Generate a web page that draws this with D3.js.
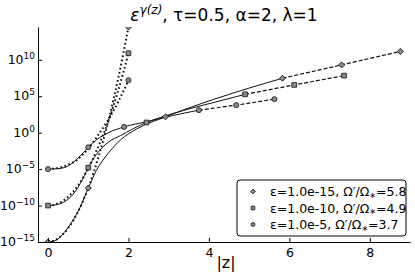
<!DOCTYPE html>
<html>
<head>
<meta charset="utf-8">
<script src="https://cdn.jsdelivr.net/npm/d3@7"></script>
<style>
  body { margin: 0; background: #fff; }
  text { font-family: "DejaVu Sans", sans-serif; fill: #000; }
</style>
</head>
<body>
<div id="root"></div>
<script>
// values are log10 of eps^gamma(z)
const epsLabels = ["1.0e-15", "1.0e-10", "1.0e-5"];
const ratioLabels = ["5.8", "4.9", "3.7"];
const shapes = ["diamond", "square", "circle"];

const solidZ = [
  [0, 0.2, 0.4, 0.6, 0.8, 1.0, 1.2, 1.5, 1.8, 2.2, 2.92, 3.5, 4.2, 5.0, 5.83],
  [0, 0.2, 0.4, 0.6, 0.8, 1.0, 1.2, 1.5, 1.8, 2.1, 2.45, 3.0, 3.7, 4.3, 4.9],
  [0, 0.2, 0.4, 0.6, 0.8, 1.0, 1.2, 1.5, 1.89, 2.45, 3.1, 3.75],
];
const solidLog = [
  [-15, -14.75, -13.7, -12.2, -10.2, -7.6, -5.2, -2.8, -1.0, 0.5, 2.17, 3.39, 4.72, 6.12, 7.47],
  [-10, -9.9, -9.5, -8.6, -7.0, -4.8, -3.0, -1.3, -0.4, 0.5, 1.4, 2.45, 3.55, 4.4, 5.26],
  [-5, -4.95, -4.8, -4.2, -3.2, -2.0, -1.0, 0.0, 0.79, 1.5, 2.35, 3.09],
];

const dotZ = [0, 0.25, 0.5, 0.75, 1.0, 1.25, 1.5, 1.75, 2.0];
const dotLog = [
  [-15, -14.5, -13.1, -10.8, -7.6, -3.4, 1.6, 7.6, 14.5],
  [-10, -9.7, -8.8, -7.2, -4.9, -1.9, 1.6, 5.9, 10.9],
  [-5, -4.85, -4.4, -3.6, -2.2, -0.3, 1.8, 4.3, 7.2],
];

const dashZ = [
  [5.83, 7.3, 8.76],
  [4.9, 6.12, 7.36],
  [3.75, 4.68, 5.63],
];
const dashLog = [
  [7.47, 9.3, 11.15],
  [5.26, 6.55, 7.83],
  [3.09, 3.78, 4.6],
];

const markZ = [
  [0, 1, 2, 2.92, 5.83, 7.3, 8.76],
  [0, 1, 2, 2.45, 4.9, 6.12, 7.36],
  [0, 1, 2, 1.89, 3.75, 4.68, 5.63],
];
const markLog = [
  [-15, -7.6, 14.5, 2.17, 7.47, 9.3, 11.15],
  [-10, -4.8, 10.9, 1.4, 5.26, 6.55, 7.83],
  [-5, -2.0, 7.2, 0.79, 3.09, 3.78, 4.6],
];

const xTicks = [0, 2, 4, 6, 8];
const yTickExp = [-15, -10, -5, 0, 5, 10];

const width = 415;
const height = 277;
const margin = { top: 27, right: 5, bottom: 35, left: 38 };

const svg = d3.select("#root").append("svg")
  .attr("width", width)
  .attr("height", height);

const x = d3.scaleLinear()
  .domain([-0.25, 9])
  .range([margin.left, width - margin.right]);

const y = d3.scaleLog()
  .domain([1e-15, Math.pow(10, 14.5)])
  .range([height - margin.bottom, margin.top]);

const pts = (zs, ls) => zs.map((z, i) => [z, Math.pow(10, ls[i])]);

svg.append("clipPath")
  .attr("id", "plot")
  .append("rect")
  .attr("x", margin.left)
  .attr("y", margin.top)
  .attr("width", width - margin.left - margin.right)
  .attr("height", height - margin.top - margin.bottom);

const plot = svg.append("g").attr("clip-path", "url(#plot)");

const smooth = d3.line()
  .x(d => x(d[0]))
  .y(d => y(d[1]))
  .curve(d3.curveMonotoneX);

const straight = d3.line()
  .x(d => x(d[0]))
  .y(d => y(d[1]));

shapes.forEach((s, k) => {
  plot.append("path")
    .attr("d", smooth(pts(solidZ[k], solidLog[k])))
    .attr("fill", "none")
    .attr("stroke", "#111")
    .attr("stroke-width", 1);

  plot.append("path")
    .attr("d", smooth(pts(dotZ, dotLog[k])))
    .attr("fill", "none")
    .attr("stroke", "#111")
    .attr("stroke-width", 2)
    .attr("stroke-dasharray", "1.6,2.6");

  plot.append("path")
    .attr("d", straight(pts(dashZ[k], dashLog[k])))
    .attr("fill", "none")
    .attr("stroke", "#111")
    .attr("stroke-width", 1.2)
    .attr("stroke-dasharray", "4,2");
});

const symbolType = { diamond: d3.symbolSquare, square: d3.symbolSquare, circle: d3.symbolCircle };
const symbolSize = { diamond: 18, square: 22, circle: 20 };
const rotation = { diamond: 45, square: 0, circle: 0 };

function marker(g, shape, cx, cy, scale = 1) {
  g.append("path")
    .attr("d", d3.symbol().type(symbolType[shape]).size(symbolSize[shape] * scale)())
    .attr("transform", `translate(${cx},${cy}) rotate(${rotation[shape]})`)
    .attr("fill", "#8a8a8a")
    .attr("stroke", "#222")
    .attr("stroke-width", 0.9);
}

shapes.forEach((s, k) => {
  pts(markZ[k], markLog[k]).forEach(d => marker(plot, s, x(d[0]), y(d[1])));
});

// axes: left and bottom spines only, ticks pointing in
const xAxis = svg.append("g")
  .attr("transform", `translate(0,${height - margin.bottom})`)
  .call(d3.axisBottom(x).tickValues(xTicks).tickSizeInner(-4).tickSizeOuter(0).tickPadding(6));

const yAxis = svg.append("g")
  .attr("transform", `translate(${margin.left},0)`)
  .call(d3.axisLeft(y).tickValues(yTickExp.map(e => Math.pow(10, e))).tickSizeInner(-4).tickSizeOuter(0).tickFormat(""));

[xAxis, yAxis].forEach(a => {
  a.select(".domain").attr("stroke", "#000");
  a.selectAll(".tick line").attr("stroke", "#000");
  a.selectAll("text").style("font-size", "12.5px").attr("font-family", "DejaVu Sans");
});

const yLabels = svg.append("g");
yTickExp.forEach(e => {
  const t = yLabels.append("text")
    .attr("x", margin.left - 3)
    .attr("y", y(Math.pow(10, e)) + 4)
    .attr("text-anchor", "end")
    .style("font-size", "12.5px");
  t.append("tspan").text("10");
  t.append("tspan")
    .attr("dy", -5)
    .style("font-size", "9px")
    .text(String(e).replace("-", "\u2212"));
});

// title
const title = svg.append("text")
  .attr("x", 224)
  .attr("y", 21)
  .attr("text-anchor", "middle")
  .style("font-size", "17px");
title.append("tspan").style("font-style", "italic").text("ε");
title.append("tspan")
  .attr("dy", -7)
  .style("font-size", "12px")
  .style("font-style", "italic")
  .text("γ(z)");
title.append("tspan").attr("dy", 7).text(", τ=0.5, α=2, λ=1");

svg.append("text")
  .attr("x", 226)
  .attr("y", 268)
  .attr("text-anchor", "middle")
  .style("font-size", "16px")
  .text("|z|");

// legend
const legend = svg.append("g").attr("transform", "translate(237,180)");
legend.append("rect")
  .attr("width", 169)
  .attr("height", 56)
  .attr("rx", 3)
  .attr("fill", "#fff")
  .attr("stroke", "#000")
  .attr("stroke-width", 1);

shapes.forEach((s, k) => {
  const cy = 11.5 + k * 16.5;
  marker(legend, s, 16, cy, 0.6);
  const t = legend.append("text")
    .attr("x", 33)
    .attr("y", cy + 4.5)
    .style("font-size", "12.5px");
  t.append("tspan").text(`ε=${epsLabels[k]}, Ω′/Ω`);
  t.append("tspan").attr("dy", 1.5).style("font-size", "8px").text("∗");
  t.append("tspan").attr("dy", -1.5).text(`=${ratioLabels[k]}`);
});
</script>
</body>
</html>
